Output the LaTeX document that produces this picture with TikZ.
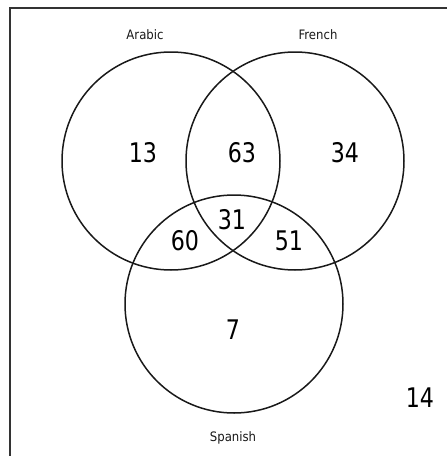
\documentclass[tikz,border=0pt]{standalone}
\usepackage{fontspec}
\setmainfont{DejaVu Sans}
\newfontfamily\numfont[FakeStretch=0.82]{DejaVu Sans}
\newfontfamily\labfont[FakeStretch=0.9]{DejaVu Sans}
\begin{document}
\begin{tikzpicture}[x=1pt,y=-1pt,
  setcircle/.style={circle, draw=black!90, line width=1.5pt, minimum size=218pt, inner sep=0pt},
  numlabel/.style={font=\numfont\fontsize{27}{27}\selectfont, inner sep=0pt, text=black},
  setlabel/.style={font=\labfont\fontsize{13}{13}\selectfont, inner sep=0pt, text=black!90},
  frameline/.style={draw=black!80, line width=1.8pt}]
\useasboundingbox (0,0) rectangle (447,456);
\coordinate (ftl) at (10,8);
\coordinate (ftr) at (447,8);
\coordinate (fbl) at (10,456);
\draw[frameline] (fbl) -- (ftl) -- (ftr);
\node[setcircle] (arabic) at (171,161) {};
\node[setcircle] (french) at (295,161) {};
\node[setcircle] (spanish) at (234,304) {};
\node[setlabel] (larabic) at (145,35) {Arabic};
\node[setlabel] (lfrench) at (318,35) {French};
\node[setlabel] (lspanish) at (233,438) {Spanish};
\node[numlabel] (n13) at (143,153) {13};
\node[numlabel] (n63) at (242,153) {63};
\node[numlabel] (n34) at (345,153) {34};
\node[numlabel] (n31) at (232,220) {31};
\node[numlabel] (n60) at (185,241) {60};
\node[numlabel] (n51) at (289,241) {51};
\node[numlabel] (n7) at (233,330) {7};
\node[numlabel] (n14) at (420,398) {14};
\end{tikzpicture}
\end{document}
